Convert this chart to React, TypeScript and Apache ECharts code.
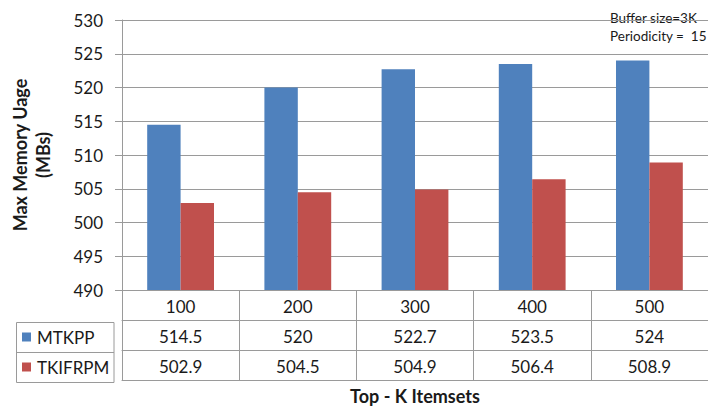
import React, { useEffect, useRef } from "react";
import * as echarts from "echarts";

// Top-K sizes along the category axis
const categories: string[] = ["100", "200", "300", "400", "500"];
// Max memory usage (MBs) per method
const mtkppValues: number[] = [514.5, 520, 522.7, 523.5, 524];
const tkifrpmValues: number[] = [502.9, 504.5, 504.9, 506.4, 508.9];
const seriesNames: string[] = ["MTKPP", "TKIFRPM"];
const noteLines: string[] = ["Buffer size=3K", "Periodicity =  15"];

const FONT = "Lato, 'Liberation Sans', sans-serif";
const GRID_COLOR = "#9a9a9a";
const TEXT_COLOR = "#1a1a1a";
const ROW_H = 30;

export default function App() {
  const ref = useRef<HTMLDivElement>(null);

  useEffect(() => {
    if (!ref.current) return;
    const chart = echarts.init(ref.current, null, { renderer: "svg" });

    // One category axis per data-table row; its ticks draw the cell separators
    const tableAxis = (data: string[], offset: number, showLabel: boolean, showTick: boolean) => ({
      type: "category" as const,
      data,
      position: "bottom" as const,
      offset,
      boundaryGap: true,
      axisLine: { show: true, lineStyle: { color: GRID_COLOR, width: 1 } },
      axisTick: {
        show: showTick,
        interval: 0,
        length: ROW_H,
        lineStyle: { color: GRID_COLOR, width: 1 },
      },
      axisLabel: {
        show: showLabel,
        interval: 0,
        margin: 8,
        fontSize: 17,
        fontFamily: FONT,
        color: TEXT_COLOR,
      },
      splitLine: { show: false },
    });

    const option = {
      animation: false,
      textStyle: { fontFamily: FONT },
      grid: { left: 114, right: 0, top: 20, height: 272, containLabel: false },
      legend: {
        data: seriesNames,
        orient: "vertical",
        left: 22,
        top: 322,
        padding: 0,
        itemGap: 0,
        itemWidth: 9,
        itemHeight: 9,
        icon: "rect",
        selectedMode: false,
        textStyle: {
          fontSize: 17,
          fontFamily: FONT,
          color: TEXT_COLOR,
          lineHeight: ROW_H,
          padding: [0, 0, 0, 1],
        },
      },
      xAxis: [
        tableAxis(categories, 0, true, true),
        tableAxis(mtkppValues.map(String), ROW_H, true, true),
        tableAxis(tkifrpmValues.map(String), ROW_H * 2, true, true),
        {
          ...tableAxis(categories, ROW_H * 3, false, false),
          name: "Top - K Itemsets",
          nameLocation: "middle",
          nameGap: 7,
          nameTextStyle: {
            fontSize: 18,
            fontWeight: "bold",
            fontFamily: FONT,
            color: TEXT_COLOR,
            verticalAlign: "top",
          },
        },
      ],
      yAxis: {
        type: "value",
        min: 490,
        max: 530,
        interval: 5,
        name: "Max Memory Uage\n(MBs)",
        nameLocation: "middle",
        nameRotate: 90,
        nameGap: 68,
        nameTextStyle: {
          fontSize: 18,
          fontWeight: "bold",
          fontFamily: FONT,
          color: TEXT_COLOR,
          lineHeight: 23,
        },
        axisLine: { show: true, lineStyle: { color: GRID_COLOR, width: 1 } },
        axisTick: { show: true, inside: false, length: 7, lineStyle: { color: GRID_COLOR } },
        axisLabel: { margin: 19, fontSize: 17, fontFamily: FONT, color: TEXT_COLOR },
        splitLine: { show: true, lineStyle: { color: GRID_COLOR, width: 1 } },
      },
      series: [
        {
          name: seriesNames[0],
          type: "bar",
          xAxisIndex: 0,
          data: mtkppValues,
          barGap: "0%",
          barCategoryGap: "43%",
          itemStyle: { color: "#4F81BD" },
        },
        {
          name: seriesNames[1],
          type: "bar",
          xAxisIndex: 0,
          data: tkifrpmValues,
          barGap: "0%",
          barCategoryGap: "43%",
          itemStyle: { color: "#C0504D" },
        },
      ],
      graphic: [
        // Borders of the series-name column of the data table
        {
          type: "rect",
          shape: { x: 16.5, y: 322.5, width: 97.5, height: ROW_H * 2 },
          style: { fill: "none", stroke: GRID_COLOR, lineWidth: 1 },
          silent: true,
        },
        {
          type: "line",
          shape: { x1: 16.5, y1: 352.5, x2: 114, y2: 352.5 },
          style: { stroke: GRID_COLOR, lineWidth: 1 },
          silent: true,
        },
        {
          type: "text",
          x: 610,
          y: 9,
          style: {
            text: noteLines.join("\n"),
            fontSize: 13.5,
            lineHeight: 18,
            fontFamily: FONT,
            fill: TEXT_COLOR,
          },
          silent: true,
        },
      ],
    };

    chart.setOption(option as any);
    return () => chart.dispose();
  }, []);

  return (
    <div
      ref={ref}
      style={{ position: "absolute", left: 0, top: 0, width: 708, height: 410, background: "#fff" }}
    />
  );
}
